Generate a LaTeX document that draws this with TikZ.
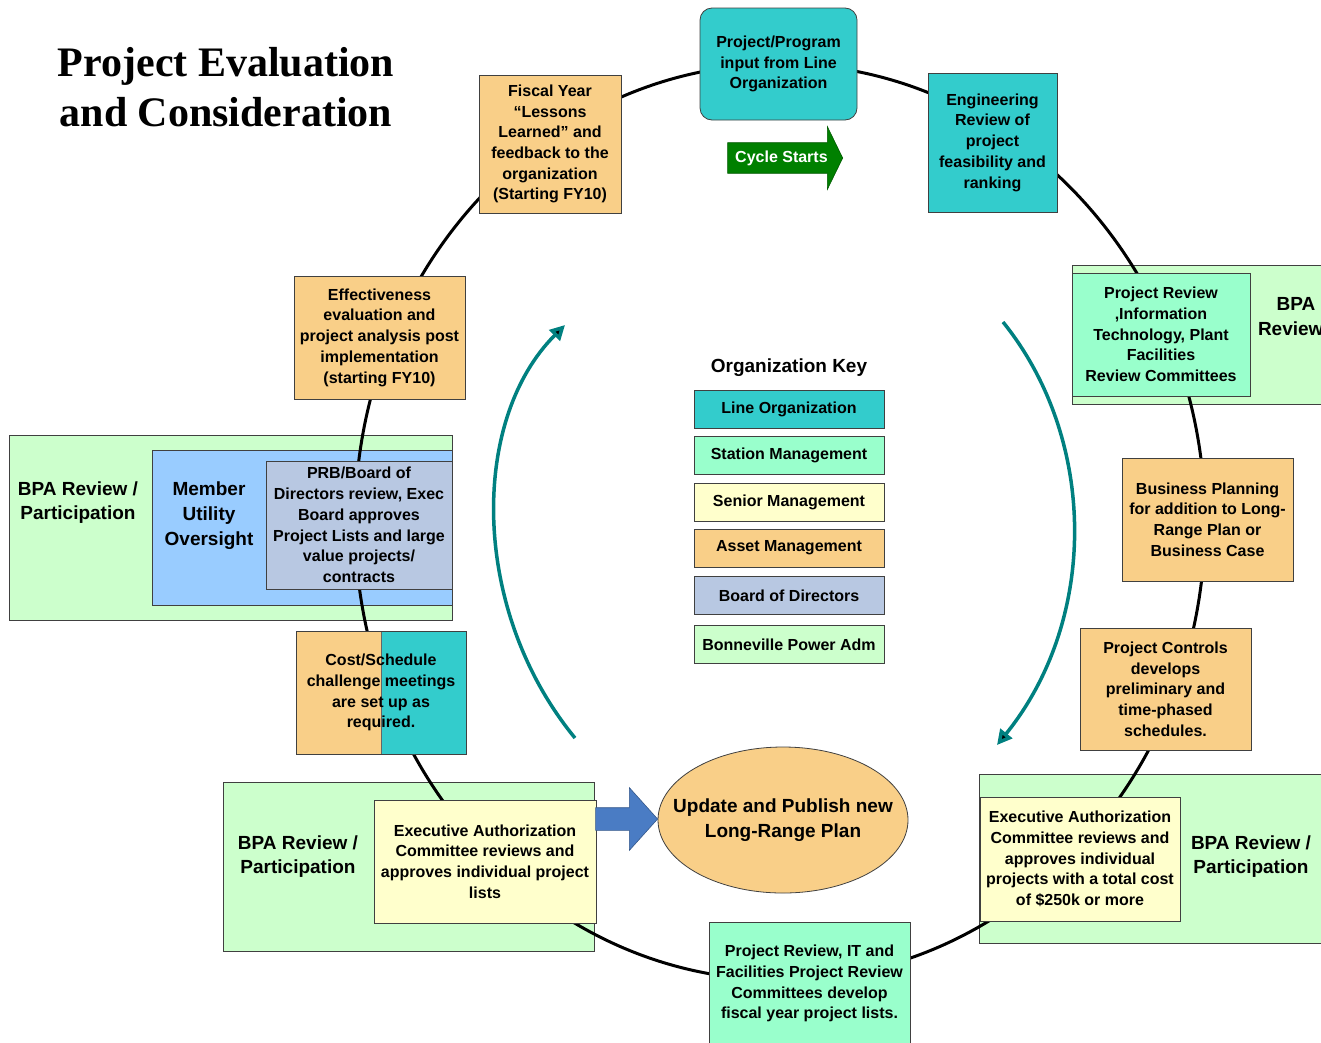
\documentclass[tikz,border=0pt]{standalone}
\usepackage{fontspec}
\setmainfont{Liberation Sans}
\newfontfamily\titlefont{Liberation Serif}
\usetikzlibrary{shapes.geometric,shapes.arrows,arrows.meta}
\definecolor{lineorg}{HTML}{33CCCC}
\definecolor{station}{HTML}{99FFCC}
\definecolor{senior}{HTML}{FFFFCC}
\definecolor{asset}{HTML}{F9CF88}
\definecolor{board}{HTML}{B8C8E2}
\definecolor{bpa}{HTML}{CCFFCC}
\definecolor{member}{HTML}{99CCFF}
\definecolor{flow}{HTML}{008080}
\definecolor{startgreen}{HTML}{008000}
\definecolor{pushblue}{HTML}{4A7CC4}
\begin{document}
\begin{tikzpicture}[
  x=1pt, y=-1pt,
  every node/.style={font=\bfseries\fontsize{16}{20.7}\selectfont, align=center, inner sep=0pt},
  box/.style={draw=black!75, line width=0.8pt},
  card/.style n args={3}{box, fill=#1, minimum width=#2, minimum height=#3},
  keybox/.style={box, fill=#1, minimum width=190, minimum height=38},
  bigtext/.style={font=\bfseries\fontsize{19}{24.8}\selectfont},
  cycleline/.style={line width=3pt},
  flowarrow/.style={draw=flow, line width=3.5pt, -{Triangle[length=15pt,width=15pt,fill=black]}},
]
\useasboundingbox (0,0) rectangle (1321,1042);

\node[font=\titlefont\bfseries\fontsize{42}{50}\selectfont] (title) at (226,87) {Project Evaluation\\and Consideration};

\node[card={bpa}{443}{185}] (bpaleft) at (230.5,527.5) {};
\node[card={member}{300}{155}] (member) at (302,527.5) {};
\node[card={bpa}{371}{169}] (bpabl) at (408.5,866.5) {};
\node[card={bpa}{351}{169}] (bpabr) at (1154.5,858.5) {};
\node[card={bpa}{258}{139}] (bpatr) at (1201,334.5) {};

\coordinate (hub) at (780,522);
\draw[cycleline] (hub) ellipse [x radius=425, y radius=458];

\node[card={lineorg}{157}{112}, rounded corners=12pt] (prog) at (778.5,64) {Project/Program\\input from Line\\Organization};
\node[card={lineorg}{129}{139}] (eng) at (992.5,142.5) {Engineering\\Review of\\project\\feasibility and\\ranking};
\node[card={station}{178}{123}] (prinfo) at (1161,334.5) {Project Review\\,Information\\Technology, Plant\\Facilities\\Review Committees};
\node[card={asset}{171}{123}] (bizplan) at (1207.5,519.5) {Business Planning\\for addition to Long-\\Range Plan or\\Business Case};
\node[card={asset}{171}{122}] (controls) at (1165.5,689) {Project Controls\\develops\\preliminary and\\time-phased\\schedules.};
\node[card={senior}{200}{124}] (execright) at (1080,859) {Executive Authorization\\Committee reviews and\\approves individual\\projects with a total cost\\of \$250k or more};
\node[card={station}{201}{123}] (fylists) at (809.5,983.5) {Project Review, IT and\\Facilities Project Review\\Committees develop\\fiscal year project lists.};
\node[box, ellipse, fill=asset, inner xsep=-22pt, minimum width=250, minimum height=146, bigtext] (plan) at (783,820) {Update and Publish new\\Long-Range Plan};
\node[card={senior}{222}{123}] (execleft) at (485,861.5) {Executive Authorization\\Committee reviews and\\approves individual project\\lists};
\node[card={asset}{170}{123}, path picture={
    \fill[lineorg] (path picture bounding box.north) rectangle (path picture bounding box.south east);
    \draw[black!60, line width=0.8pt] (path picture bounding box.north) -- (path picture bounding box.south);
  }] (cost) at (381,692.5) {Cost/Schedule\\challenge meetings\\are set up as\\required.};
\node[card={board}{186}{128}] (prb) at (359,525) {PRB/Board of\\Directors review, Exec\\Board approves\\Project Lists and large\\value projects/\\contracts};
\node[card={asset}{171}{123}] (effect) at (379.5,337.5) {Effectiveness\\evaluation and\\project analysis post\\implementation\\(starting FY10)};
\node[card={asset}{142}{138}] (fiscal) at (550,144) {Fiscal Year\\“Lessons\\Learned” and\\feedback to the\\organization\\(Starting FY10)};

\node[bigtext] (bpalefttext) at (78,502.5) {BPA Review /\\Participation};
\node[bigtext] (membertext) at (209,515.5) {Member\\Utility\\Oversight};
\node[bigtext] (bpabltext) at (298,856.5) {BPA Review /\\Participation};
\node[bigtext] (bpabrtext) at (1251,856.5) {BPA Review /\\Participation};
\node[bigtext] (bpatrtext) at (1296,317) {BPA\\Review /};

\node[bigtext] (keytitle) at (789,368) {Organization Key};
\node[keybox=lineorg] (keyline) at (789,409) {Line Organization};
\node[keybox=station] (keystation) at (789,455) {Station Management};
\node[keybox=senior] (keysenior) at (789,502) {Senior Management};
\node[keybox=asset] (keyasset) at (789,548) {Asset Management};
\node[keybox=board] (keyboard) at (789,595.5) {Board of Directors};
\node[keybox=bpa] (keybpa) at (789,644.5) {Bonneville Power Adm};

\node[single arrow, fill=startgreen, draw=startgreen!70!black, line width=0.6pt, text=white,
  inner xsep=6pt, inner ysep=7.5pt, minimum height=115, single arrow head extend=16,
  single arrow tip angle=128, anchor=tip] (start) at (843,158) {Cycle Starts};
\node[single arrow, fill=pushblue, draw=pushblue!70!black, line width=0.6pt,
  inner sep=11pt, minimum height=62, single arrow head extend=20,
  single arrow tip angle=96, anchor=tip] (push) at (658,819) {};

\coordinate (lbottom) at (575,738);
\coordinate (ltop) at (565,325);
\coordinate (rtop) at (1003,322);
\coordinate (rbottom) at (997,745);
\draw[flowarrow] (lbottom) .. controls (470,610) and (470,420) .. (ltop);
\draw[flowarrow] (rtop) .. controls (1098,440) and (1098,620) .. (rbottom);
\end{tikzpicture}
\end{document}
